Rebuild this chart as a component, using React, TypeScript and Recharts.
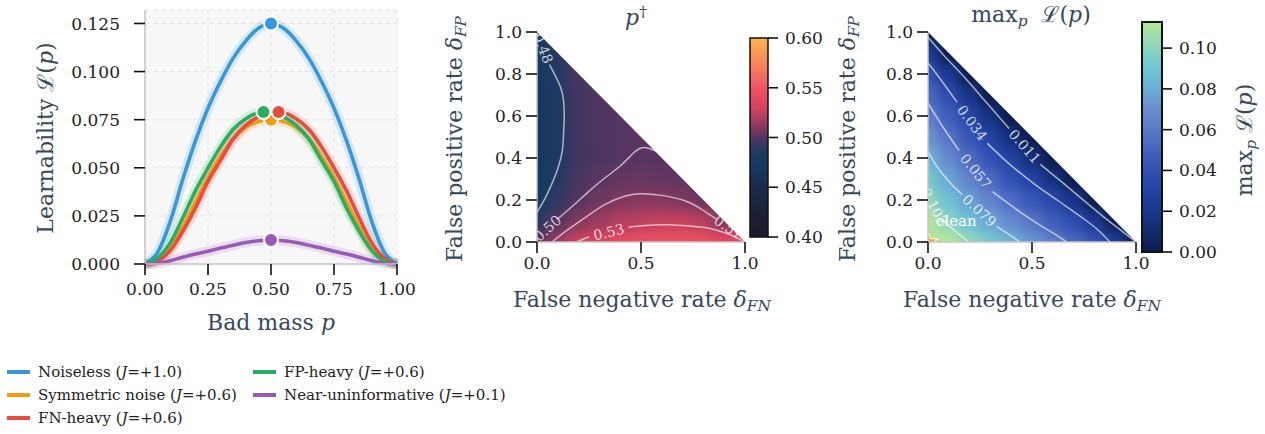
import React from "react";
import {
  ComposedChart, BarChart, Bar, Line, Scatter, Area, XAxis, YAxis, CartesianGrid,
} from "recharts";

const SERIF = "'DejaVu Serif', serif";
const SLATE = "#34495e";

// ---------- left panel: learnability curves ----------
const badMass = [0, 0.05, 0.1, 0.15, 0.2, 0.25, 0.3, 0.35, 0.4, 0.45, 0.5, 0.55, 0.6, 0.65, 0.7, 0.75, 0.8, 0.85, 0.9, 0.95, 1];
const noiseless = [0, 0.006, 0.022, 0.044, 0.064, 0.081, 0.095, 0.107, 0.116, 0.1225, 0.125, 0.1225, 0.116, 0.107, 0.095, 0.081, 0.064, 0.044, 0.022, 0.006, 0];
const symmetric = [0, 0.002, 0.008, 0.019, 0.032, 0.045, 0.056, 0.065, 0.071, 0.074, 0.075, 0.074, 0.071, 0.065, 0.056, 0.045, 0.032, 0.019, 0.008, 0.002, 0];
const fnHeavy = [0, 0.0015, 0.007, 0.017, 0.029, 0.043, 0.054, 0.065, 0.072, 0.0765, 0.0785, 0.0785, 0.0755, 0.07, 0.061, 0.05, 0.038, 0.024, 0.011, 0.003, 0];
const fpHeavy = [0, 0.003, 0.011, 0.024, 0.038, 0.05, 0.061, 0.07, 0.0755, 0.0785, 0.0785, 0.0765, 0.072, 0.065, 0.054, 0.043, 0.029, 0.017, 0.007, 0.0015, 0];
const nearUninformative = [0, 0.0004, 0.0017, 0.0035, 0.0052, 0.0066, 0.0083, 0.0098, 0.0112, 0.0121, 0.0125, 0.0121, 0.0112, 0.0098, 0.0083, 0.0066, 0.0052, 0.0035, 0.0017, 0.0004, 0];
const peakP = [0.5, 0.5, 0.53, 0.47, 0.5];
const peakL = [0.125, 0.075, 0.079, 0.079, 0.0125];
const learnTicks = [0, 0.025, 0.05, 0.075, 0.1, 0.125];
const massTicks = [0, 0.25, 0.5, 0.75, 1];

const SERIES = [
  { key: "noiseless", name: "Noiseless", j: "+1.0", color: "#3498db", values: noiseless },
  { key: "symmetric", name: "Symmetric noise", j: "+0.6", color: "#f39c12", values: symmetric },
  { key: "fnHeavy", name: "FN-heavy", j: "+0.6", color: "#e74c3c", values: fnHeavy },
  { key: "fpHeavy", name: "FP-heavy", j: "+0.6", color: "#27ae60", values: fpHeavy },
  { key: "nearUninf", name: "Near-uninformative", j: "+0.1", color: "#9b59b6", values: nearUninformative },
];

// ---------- heat panels: rows = δFP (0 -> 1), columns = δFN ----------
const rateGrid = [0, 0.1, 0.2, 0.3, 0.4, 0.5, 0.6, 0.7, 0.8, 0.9, 1];
const rateTicksY = [0, 0.2, 0.4, 0.6, 0.8, 1];
const rateTicksX = [0, 0.5, 1];

const pDaggerRows = [
  [0.5, 0.516, 0.528, 0.536, 0.542, 0.546, 0.548, 0.548, 0.546, 0.541, 0.533],
  [0.49, 0.5, 0.51, 0.516, 0.521, 0.524, 0.526, 0.526, 0.522, 0.51],
  [0.476, 0.491, 0.5, 0.505, 0.509, 0.511, 0.511, 0.509, 0.505],
  [0.47, 0.487, 0.497, 0.501, 0.503, 0.504, 0.503, 0.502],
  [0.467, 0.485, 0.495, 0.498, 0.5, 0.501, 0.501],
  [0.466, 0.484, 0.495, 0.499, 0.5, 0.501],
  [0.466, 0.484, 0.495, 0.499, 0.5],
  [0.467, 0.485, 0.496, 0.499],
  [0.469, 0.487, 0.497],
  [0.473, 0.49],
  [0.478],
];
const maxLRows = [
  [0.125, 0.113, 0.102, 0.092, 0.083, 0.073, 0.063, 0.053, 0.042, 0.026, 0],
  [0.113, 0.099, 0.088, 0.078, 0.068, 0.058, 0.047, 0.037, 0.022, 0],
  [0.102, 0.088, 0.076, 0.065, 0.054, 0.043, 0.034, 0.018, 0],
  [0.092, 0.078, 0.065, 0.053, 0.041, 0.03, 0.015, 0],
  [0.083, 0.068, 0.054, 0.041, 0.029, 0.014, 0],
  [0.073, 0.058, 0.043, 0.03, 0.014, 0],
  [0.063, 0.047, 0.034, 0.015, 0],
  [0.053, 0.037, 0.018, 0],
  [0.042, 0.022, 0],
  [0.026, 0],
  [0],
];

// contour polylines, null = gap where the inline label sits
const pDaggerContours = [
  { text: "0.48", points: [[0, 1], null, [0.06, 0.845], [0.112, 0.741], [0.128, 0.67], [0.131, 0.598], [0.127, 0.5], [0.12, 0.424], [0.1, 0.35], [0.08, 0.297], [0.045, 0.22], [0.008, 0.154], [0, 0.14]] },
  { text: "0.50", points: [[0, 0.02], null, [0.1, 0.11], [0.17, 0.17], [0.24, 0.233], [0.32, 0.3], [0.4, 0.362], [0.46, 0.42], [0.5, 0.448], [0.54, 0.445], [0.6, 0.42]] },
  { text: "0.51", points: [[0.072, 0], [0.15, 0.06], [0.24, 0.122], [0.33, 0.18], [0.42, 0.218], [0.498, 0.23], [0.6, 0.222], [0.72, 0.193], [0.8, 0.15], [0.86, 0.11], null, [0.98, 0.03]] },
  { text: "0.53", points: [[0.19, 0], [0.25, 0.025], null, [0.44, 0.07], [0.52, 0.078], [0.61, 0.082], [0.7, 0.079], [0.82, 0.067], [0.9, 0.045], [0.947, 0.027], [1, 0]] },
];
const maxLContours = [
  { text: "0.011", points: [[0, 0.975], [0.08, 0.885], [0.171, 0.789], [0.28, 0.665], [0.39, 0.54], null, [0.54, 0.37], [0.65, 0.28], [0.763, 0.186], [0.85, 0.115], [0.923, 0.059], [1, 0]] },
  { text: "0.034", points: [[0, 0.852], [0.06, 0.775], [0.14, 0.665], null, [0.285, 0.47], [0.37, 0.39], [0.443, 0.329], [0.52, 0.27], [0.603, 0.212], [0.69, 0.152], [0.763, 0.1], [0.82, 0.055], [0.875, 0]] },
  { text: "0.057", points: [[0, 0.662], [0.07, 0.55], [0.15, 0.435], null, [0.31, 0.24], [0.363, 0.201], [0.44, 0.145], [0.523, 0.09], [0.6, 0.043], [0.667, 0]] },
  { text: "0.079", points: [[0, 0.431], [0.05, 0.35], [0.107, 0.281], [0.165, 0.225], null, [0.33, 0.075], [0.39, 0.035], [0.443, 0]] },
  { text: "0.102", points: [[0, 0.225], null, [0.06, 0.11], [0.123, 0.059], [0.195, 0]] },
];
const cleanPoint = [{ x: 0, y: 0 }];
// band above δFN + δFP = 1 (outside the simplex)
const outsideRows = [{ x: 0, band: [1, 1.2] }, { x: 1, band: [0, 1.2] }];

// colour bars
const pDaggerRange = [0.4, 0.6];
const pDaggerCbTicks = [0.4, 0.45, 0.5, 0.55, 0.6];
const maxLRange = [0, 0.1128];
const maxLCbTicks = [0, 0.02, 0.04, 0.06, 0.08, 0.1];

const pDaggerStops: [number, string][] = [
  [0.4, "#1d1b2e"], [0.43, "#1c2238"], [0.45, "#1a2b4a"], [0.47, "#153a62"], [0.485, "#1d3a62"],
  [0.49, "#2b3862"], [0.495, "#403661"], [0.5, "#553561"], [0.51, "#84385f"], [0.52, "#b03e5f"],
  [0.53, "#d4435f"], [0.54, "#e5475f"], [0.55, "#ed5461"], [0.56, "#f26a5f"], [0.58, "#f98f58"], [0.6, "#fdb84d"],
];
const maxLStops: [number, string][] = [
  [0, "#0c1d4d"], [0.01, "#132a6e"], [0.02, "#1a3890"], [0.03, "#2243a5"], [0.04, "#3150b2"],
  [0.05, "#4664be"], [0.06, "#5b78c8"], [0.07, "#6a8ccf"], [0.08, "#6aaed6"], [0.09, "#70c4d5"],
  [0.1, "#8cd6bd"], [0.1128, "#b8e597"],
];

const HEAT_W = 208;
const HEAT_H = 210;

function hexRgb(h: string) {
  const n = parseInt(h.slice(1), 16);
  return [(n >> 16) & 255, (n >> 8) & 255, n & 255];
}
function colorAt(stops: [number, string][], v: number) {
  if (v <= stops[0][0]) return stops[0][1];
  for (let i = 1; i < stops.length; i++) {
    if (v <= stops[i][0]) {
      const t = (v - stops[i - 1][0]) / (stops[i][0] - stops[i - 1][0]);
      const a = hexRgb(stops[i - 1][1]);
      const b = hexRgb(stops[i][1]);
      return `rgb(${a.map((c, k) => Math.round(c + (b[k] - c) * t)).join(",")})`;
    }
  }
  return stops[stops.length - 1][1];
}

const cellsOf = (rows: number[][]) =>
  rows.flatMap((row, i) => row.map((v, j) => ({ x: rateGrid[j], y: rateGrid[i], v })));

const contourRows = (pts: any[]) =>
  pts.map((pt, i) => (pt ? { x: pt[0], y: pt[1] } : { x: (pts[i - 1][0] + pts[i + 1][0]) / 2, y: null }));

function contourLabels(cs: { text: string; points: any[] }[]) {
  return cs.map((c) => {
    const k = c.points.indexOf(null);
    const a = c.points[k - 1];
    const b = c.points[k + 1];
    let angle = (Math.atan2(-(b[1] - a[1]) * HEAT_H, (b[0] - a[0]) * HEAT_W) * 180) / Math.PI;
    if (angle > 90) angle -= 180;
    if (angle < -90) angle += 180;
    return { x: (a[0] + b[0]) / 2, y: (a[1] + b[1]) / 2, text: c.text, angle };
  });
}

const tickText = { fill: "#222", fontSize: 17, fontFamily: SERIF };
const tickLine = { stroke: "#111", strokeWidth: 1.6 };
const spine = { stroke: "#c4c4c4", strokeWidth: 1.5 };

function cellShape(stops: [number, string][]) {
  return (props: any) => {
    const w = HEAT_W / 10 + 1;
    const h = HEAT_H / 10 + 1;
    return <rect x={props.cx - w / 2} y={props.cy - h / 2} width={w} height={h} fill={colorAt(stops, props.payload.v)} />;
  };
}

const labelShape = (props: any) => (
  <text x={props.cx} y={props.cy} transform={`rotate(${props.payload.angle} ${props.cx} ${props.cy})`}
    textAnchor="middle" dominantBaseline="central" fontSize={14} fontFamily={SERIF} fill="rgba(255,255,255,0.78)">
    {props.payload.text}
  </text>
);

const cleanShape = (props: any) => {
  const pts: string[] = [];
  for (let i = 0; i < 10; i++) {
    const r = i % 2 === 0 ? 10 : 4.2;
    const a = -Math.PI / 2 + (i * Math.PI) / 5;
    pts.push(`${props.cx + r * Math.cos(a)},${props.cy + r * Math.sin(a)}`);
  }
  return (
    <g>
      <polygon points={pts.join(" ")} fill="#f5a623" stroke="#fff" strokeWidth={1.2} />
      <text x={props.cx + 8} y={props.cy - 16} fontSize={15} fontFamily={SERIF} fill="#fff">clean</text>
    </g>
  );
};

// three stacked charts with identical plot rectangles: smoothed cells, contours, mask + axes
function HeatPanel({ rows, stops, contours, withClean, width, yw, right }: any) {
  const cells = cellsOf(rows);
  const labels = contourLabels(contours);
  const H = 340;
  const inner = { top: 32, right, bottom: 98, left: yw };
  const hiddenAxes = [
    <XAxis key="x" type="number" dataKey="x" domain={[0, 1]} allowDataOverflow hide />,
    <YAxis key="y" type="number" dataKey="y" domain={[0, 1]} allowDataOverflow hide />,
  ];
  const layer = { position: "absolute" as const, left: 0, top: 0 };
  return (
    <div style={{ position: "relative", width, height: H }}>
      <div style={layer}>
        <ComposedChart width={width} height={H} margin={inner}>
          {hiddenAxes}
          <Scatter className="heat-cells" data={cells} shape={cellShape(stops)} isAnimationActive={false} />
        </ComposedChart>
      </div>
      <div style={layer}>
        <ComposedChart width={width} height={H} margin={inner}>
          {hiddenAxes}
          {contours.map((c: any) => (
            <Line key={c.text} data={contourRows(c.points)} dataKey="y" type="natural" stroke="rgba(255,255,255,0.62)"
              strokeWidth={1.5} dot={false} activeDot={false} isAnimationActive={false} />
          ))}
          <Scatter data={labels} shape={labelShape} isAnimationActive={false} />
          {withClean && <Scatter data={cleanPoint} shape={cleanShape} isAnimationActive={false} />}
        </ComposedChart>
      </div>
      <div style={layer}>
        <ComposedChart width={width} height={H} margin={{ top: 32, right, bottom: 0, left: 0 }}>
          <XAxis type="number" dataKey="x" domain={[0, 1]} allowDataOverflow ticks={rateTicksX}
            tickFormatter={(v: number) => v.toFixed(1)} height={98} tickSize={11} tickMargin={4}
            tick={tickText} tickLine={tickLine} axisLine={spine} />
          <YAxis type="number" dataKey="y" domain={[0, 1]} allowDataOverflow ticks={rateTicksY}
            tickFormatter={(v: number) => v.toFixed(1)} width={yw} tickSize={11} tickMargin={4}
            tick={tickText} tickLine={tickLine} axisLine={spine} />
          <Area data={outsideRows} dataKey="band" type="linear" fill="#ffffff" fillOpacity={1} stroke="none"
            isAnimationActive={false} />
        </ComposedChart>
      </div>
    </div>
  );
}

function ColorBar({ range, ticks, gradient, width, height, top, bottom, axisWidth, border }: any) {
  return (
    <BarChart width={width} height={height} data={[{ name: "cb", range }]} barCategoryGap={0}
      margin={{ top, right: 0, bottom, left: 5 }}>
      <XAxis dataKey="name" hide />
      <YAxis orientation="right" type="number" domain={range} ticks={ticks} width={axisWidth}
        tickFormatter={(v: number) => v.toFixed(2)} tickSize={10} tickMargin={7}
        tick={tickText} tickLine={tickLine} axisLine={false} />
      <Bar dataKey="range" fill={`url(#${gradient})`} stroke="#111" strokeWidth={border} isAnimationActive={false} />
    </BarChart>
  );
}

const abs = (left: number, top: number, extra: any = {}) => ({
  position: "absolute" as const, left, top, ...extra,
});
const centered = (x: number, y: number, rotate = 0, size = 22) => ({
  position: "absolute" as const, left: x, top: y, transform: `translate(-50%, -50%) rotate(${rotate}deg)`,
  whiteSpace: "nowrap" as const, fontFamily: SERIF, fontSize: size, color: SLATE, lineHeight: 1,
});
const subStyle = { fontSize: "0.7em", verticalAlign: "-0.25em" };

function gradStops(stops: [number, string][], lo: number, hi: number) {
  return stops.map(([v, c]) => (
    <stop key={v} offset={`${Math.min(100, ((v - lo) / (hi - lo)) * 100)}%`} stopColor={c} />
  ));
}

export default function App() {
  const curveRows = badMass.map((p, i) => {
    const r: any = { p };
    SERIES.forEach((s) => (r[s.key] = s.values[i]));
    return r;
  });
  const legendCols = [SERIES.slice(0, 3), SERIES.slice(3)];

  return (
    <div style={{ position: "absolute", left: 0, top: 0, width: 1265, height: 434, background: "#fff", overflow: "hidden", fontFamily: SERIF }}>
      <style>{`.heat-cells { filter: url(#heatSmooth); }`}</style>
      <svg width={0} height={0} style={{ position: "absolute" }}>
        <defs>
          <filter id="heatSmooth" x="-10%" y="-10%" width="120%" height="120%" colorInterpolationFilters="sRGB">
            <feGaussianBlur stdDeviation={6} />
            <feComponentTransfer>
              <feFuncA type="linear" slope={4} intercept={0} />
            </feComponentTransfer>
          </filter>
          <linearGradient id="cbPDagger" x1="0" y1="1" x2="0" y2="0">
            {gradStops(pDaggerStops, pDaggerRange[0], pDaggerRange[1])}
          </linearGradient>
          <linearGradient id="cbMaxL" x1="0" y1="1" x2="0" y2="0">
            {gradStops(maxLStops, maxLRange[0], maxLRange[1])}
          </linearGradient>
        </defs>
      </svg>

      {/* left: learnability curves */}
      <div style={abs(0, 0)}>
        <ComposedChart width={420} height={340} data={curveRows} margin={{ top: 10, right: 23, bottom: 0, left: 0 }}>
          <CartesianGrid fill="#f7f7f7" stroke="#e2e2e2" strokeDasharray="4 4" />
          <XAxis type="number" dataKey="p" domain={[0, 1]} ticks={massTicks} tickFormatter={(v: number) => v.toFixed(2)}
            height={76} tickSize={11} tickMargin={8} tick={tickText} tickLine={tickLine} axisLine={spine} />
          <YAxis type="number" domain={[0, 0.132]} ticks={learnTicks} tickFormatter={(v: number) => v.toFixed(3)}
            width={145} tickSize={11} tickMargin={14} tick={tickText} tickLine={tickLine} axisLine={spine} />
          {SERIES.map((s) => (
            <Line key={s.key + "-glow"} dataKey={s.key} type="monotone" stroke={s.color} strokeOpacity={0.16}
              strokeWidth={10} dot={false} activeDot={false} isAnimationActive={false} />
          ))}
          {SERIES.map((s) => (
            <Line key={s.key} dataKey={s.key} type="monotone" stroke={s.color} strokeWidth={3.6}
              dot={false} activeDot={false} isAnimationActive={false} />
          ))}
          {SERIES.map((s, i) => (
            <Scatter key={s.key + "-peak"} data={[{ p: peakP[i], y: peakL[i] }]} dataKey="y" isAnimationActive={false}
              shape={(pr: any) => <circle cx={pr.cx} cy={pr.cy} r={7} fill={s.color} stroke="#fff" strokeWidth={2} />} />
          ))}
        </ComposedChart>
      </div>
      <div style={centered(271, 323)}>Bad mass <i>p</i></div>
      <div style={centered(46, 138, -90)}>Learnability ℒ(<i>p</i>)</div>

      {/* legend */}
      {legendCols.map((col, ci) =>
        col.map((s, ri) => (
          <div key={s.key} style={abs(ci === 0 ? 7 : 253, 362 + ri * 23, { display: "flex", alignItems: "center", height: 20, fontSize: 15, color: "#222", whiteSpace: "nowrap" })}>
            <span style={{ display: "inline-block", width: 23, height: 4, background: s.color, marginRight: 8 }} />
            <span>{s.name} (<i>J</i>={s.j})</span>
          </div>
        ))
      )}

      {/* middle: p dagger */}
      <div style={abs(430, 0)}>
        <HeatPanel rows={pDaggerRows} stops={pDaggerStops} contours={pDaggerContours} withClean={false}
          width={335} yw={107} right={20} />
      </div>
      <div style={abs(745, 0)}>
        <ColorBar range={pDaggerRange} ticks={pDaggerCbTicks} gradient="cbPDagger" width={80} height={260}
          top={38} bottom={23} axisWidth={57} border={1.5} />
      </div>
      <div style={centered(636, 17)}><i>p</i><sup style={{ fontSize: "0.7em" }}>†</sup></div>
      <div style={centered(642, 302)}>False negative rate <i>δ</i><sub style={subStyle}><i>FN</i></sub></div>
      <div style={centered(457, 139, -90)}>False positive rate <i>δ</i><sub style={subStyle}><i>FP</i></sub></div>

      {/* right: max learnability */}
      <div style={abs(820, 0)}>
        <HeatPanel rows={maxLRows} stops={maxLStops} contours={maxLContours} withClean={true}
          width={330} yw={108} right={14} />
      </div>
      <div style={abs(1137, 0)}>
        <ColorBar range={maxLRange} ticks={maxLCbTicks} gradient="cbMaxL" width={95} height={270}
          top={22} bottom={18} axisWidth={70} border={2} />
      </div>
      <div style={centered(1031, 17)}>max<sub style={subStyle}><i>p</i></sub>&nbsp;&nbsp;ℒ(<i>p</i>)</div>
      <div style={centered(1032, 302)}>False negative rate <i>δ</i><sub style={subStyle}><i>FN</i></sub></div>
      <div style={centered(850, 139, -90)}>False positive rate <i>δ</i><sub style={subStyle}><i>FP</i></sub></div>
      <div style={centered(1247, 140, -90)}>max<sub style={subStyle}><i>p</i></sub> ℒ(<i>p</i>)</div>
    </div>
  );
}
